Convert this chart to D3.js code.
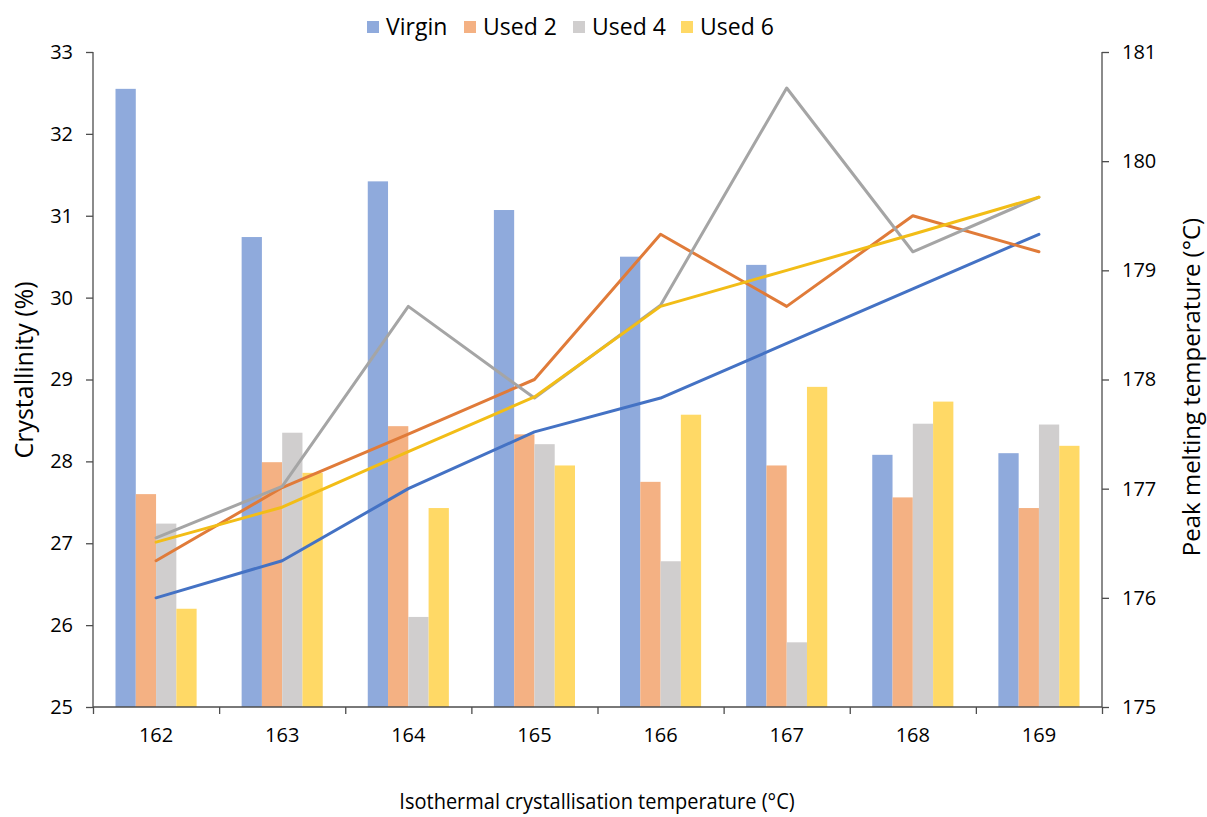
<!DOCTYPE html>
<html>
<head>
<meta charset="utf-8">
<script src="https://cdn.jsdelivr.net/npm/d3@7"></script>
<style>
  body { margin: 0; background: #fff; }
  text { font-family: "Open Sans", sans-serif; fill: #000; }
</style>
</head>
<body>
<svg id="chart" width="1207" height="817"></svg>
<script>
const temps = ["162", "163", "164", "165", "166", "167", "168", "169"];
const seriesNames = ["Virgin", "Used 2", "Used 4", "Used 6"];

// crystallinity (%), left axis - bars
const crystVirgin = [32.55, 30.74, 31.42, 31.07, 30.50, 30.40, 28.08, 28.10];
const crystUsed2  = [27.60, 27.99, 28.43, 28.33, 27.75, 27.95, 27.56, 27.43];
const crystUsed4  = [27.24, 28.35, 26.10, 28.21, 26.78, 25.79, 28.46, 28.45];
const crystUsed6  = [26.20, 27.86, 27.43, 27.95, 28.57, 28.91, 28.73, 28.19];

// peak melting temperature (°C), right axis - lines
const meltVirgin = [176.00, 176.34, 177.00, 177.52, 177.83, 178.33, 178.83, 179.33];
const meltUsed2  = [176.34, 177.01, 177.50, 178.00, 179.33, 178.67, 179.50, 179.17];
const meltUsed4  = [176.55, 177.02, 178.67, 177.83, 178.68, 180.67, 179.17, 179.67];
const meltUsed6  = [176.51, 176.83, 177.34, 177.84, 178.67, 179.00, 179.33, 179.67];

const leftTicks = [25, 26, 27, 28, 29, 30, 31, 32, 33];
const rightTicks = [175, 176, 177, 178, 179, 180, 181];

const barColors = ["#8faadc", "#f4b183", "#d0cece", "#ffd966"];
const lineColors = ["#4472c4", "#e07b39", "#a5a5a5", "#f2bd17"];

const crystAll = [crystVirgin, crystUsed2, crystUsed4, crystUsed6];
const meltAll = [meltVirgin, meltUsed2, meltUsed4, meltUsed6];

const svg = d3.select("#chart");
const plotLeft = 93, plotRight = 1102, plotTop = 52, plotBottom = 707;

// scales
const x0 = d3.scaleBand().domain(temps).range([plotLeft, plotRight]).padding(0);
const x1 = d3.scaleBand().domain(seriesNames).range([0, x0.bandwidth()]).paddingInner(0).paddingOuter(1.11);
const yL = d3.scaleLinear().domain([25, 33]).range([plotBottom, plotTop]);
const yR = d3.scaleLinear().domain([175, 181]).range([plotBottom, plotTop]);
const xEdge = d3.scaleLinear().domain([0, temps.length]).range([plotLeft, plotRight]);

// bars
const barData = [];
temps.forEach((t, i) => {
  seriesNames.forEach((s, j) => barData.push({ t: t, s: s, j: j, v: crystAll[j][i] }));
});
svg.append("g").selectAll("rect")
  .data(barData)
  .enter().append("rect")
  .attr("x", d => x0(d.t) + x1(d.s))
  .attr("y", d => yL(d.v))
  .attr("width", x1.bandwidth())
  .attr("height", d => yL(25) - yL(d.v))
  .attr("fill", d => barColors[d.j]);

// axes
const axisColor = "#4d4d4d";
const gL = svg.append("g").attr("transform", `translate(${plotLeft},0)`)
  .call(d3.axisLeft(yL).tickValues(leftTicks).tickSize(7).tickPadding(13));
const gR = svg.append("g").attr("transform", `translate(${plotRight},0)`)
  .call(d3.axisRight(yR).tickValues(rightTicks).tickFormat(d3.format("d")).tickSize(7).tickPadding(13));
const gB = svg.append("g").attr("transform", `translate(0,${plotBottom})`)
  .call(d3.axisBottom(x0).tickSize(0).tickPadding(21));
const gEdge = svg.append("g").attr("transform", `translate(0,${plotBottom})`)
  .call(d3.axisBottom(xEdge).ticks(temps.length).tickSize(7).tickFormat(""));

[gL, gR, gB, gEdge].forEach(g => {
  g.selectAll("path").attr("stroke", axisColor).attr("stroke-width", 1.3);
  g.selectAll("line").attr("stroke", axisColor).attr("stroke-width", 1.3);
  g.selectAll("text").style("font-size", "20px").attr("fill", "#111");
});
gL.selectAll(".domain").attr("d", `M0,${plotBottom}V${plotTop}`);
gR.selectAll(".domain").attr("d", `M0,${plotBottom}V${plotTop}`);
gEdge.select(".domain").remove();
gB.select(".domain").attr("d", `M${plotLeft},0H${plotRight}`);

// lines
const line = d3.line()
  .x((d, i) => x0(temps[i]) + x0.bandwidth() / 2)
  .y(d => yR(d));
svg.append("g").selectAll("path")
  .data(meltAll)
  .enter().append("path")
  .attr("d", d => line(d))
  .attr("fill", "none")
  .attr("stroke", (d, i) => lineColors[i])
  .attr("stroke-width", 3)
  .attr("stroke-linejoin", "round")
  .attr("stroke-linecap", "round");

// axis titles
svg.append("text")
  .attr("transform", "translate(33,370) rotate(-90)")
  .attr("text-anchor", "middle")
  .style("font-size", "25px")
  .text("Crystallinity (%)");
svg.append("text")
  .attr("transform", "translate(1200,387) rotate(-90)")
  .attr("text-anchor", "middle")
  .style("font-size", "24px")
  .text("Peak melting temperature (°C)");
svg.append("text")
  .attr("transform", "translate(597,809) scale(1,1.1)")
  .attr("text-anchor", "middle")
  .style("font-size", "20px")
  .text("Isothermal crystallisation temperature (°C)");

// legend
const legendX = [367, 464, 573, 681];
const legend = svg.append("g").selectAll("g")
  .data(seriesNames)
  .enter().append("g")
  .attr("transform", (d, i) => `translate(${legendX[i]},27)`);
legend.append("rect")
  .attr("x", 0).attr("y", -6)
  .attr("width", 12).attr("height", 12)
  .attr("fill", (d, i) => barColors[i]);
legend.append("text")
  .attr("x", 19).attr("y", 0)
  .attr("dy", "0.35em")
  .style("font-size", "23px")
  .text(d => d);
</script>
</body>
</html>
